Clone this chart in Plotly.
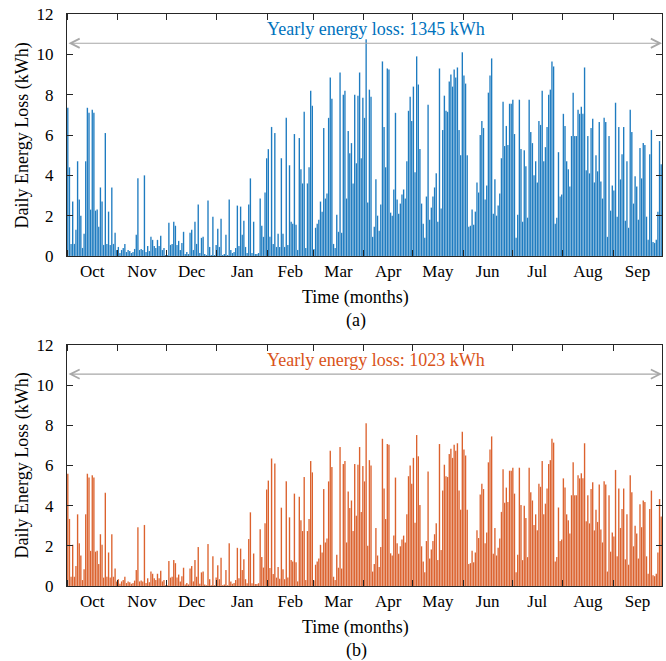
import plotly.graph_objects as go
import pandas as pd

# Daily energy loss (kWh), 1 Oct .. 30 Sep (365 days)
loss_a = [
    7.35, 4.4, 0.6, 2.7, 0.6, 1.3, 4.7, 2.8, 2.0, 0.4,
    1.1, 4.7, 7.35, 7.1, 2.3, 7.25, 7.1, 2.25, 2.3, 1.45,
    3.4, 2.7, 0.55, 6.1, 0.6, 2.2, 0.55, 3.4, 0.6, 1.15,
    0.3, 0.45, 0.15, 0.3, 0.4, 0.6, 0.2, 0.3, 0.25, 0.15,
    0.2, 0.35, 1.05, 3.85, 0.3, 0.35, 0.3, 4.0, 0.2, 0.5,
    0.25, 0.95, 0.8, 0.5, 0.4, 0.8, 0.5, 1.0, 0.3, 0.4,
    0.05, 0.05, 1.65, 0.55, 0.6, 1.7, 1.5, 0.55, 0.75, 0.3,
    0.65, 1.2, 0.1, 0.2, 0.1, 1.15, 1.3, 0.3, 1.7, 0.6,
    2.55, 0.15, 0.9, 0.95, 0.1, 0.05, 2.75, 0.45, 0.05, 1.95,
    0.05, 0.55, 1.35, 0.45, 1.85, 0.05, 0.1, 1.05, 0.05, 2.8,
    0.3, 0.15, 0.2, 0.4, 2.5, 0.5, 2.45, 1.05, 1.75, 0.45,
    0.15, 2.55, 3.85, 0.15, 1.7, 0.1, 0.1, 0.15, 2.85, 1.5,
    0.95, 3.15,
    4.85, 5.3, 0.95, 6.4, 0.6, 6.1, 0.45, 1.1, 0.45, 4.85,
    1.1, 0.45, 6.85, 0.55, 4.5, 1.7, 1.6, 6.05, 1.55, 0.3,
    5.85, 4.3, 3.6, 7.15, 0.4, 3.6, 4.4, 8.2, 7.45, 0.35,
    1.4, 1.6, 1.8, 2.7, 2.2, 6.35, 2.85, 3.1, 6.85, 8.85,
    7.8, 0.6, 0.4, 2.05, 1.2, 9.1, 1.15, 8.0, 8.2, 2.85,
    6.2, 5.1, 5.6, 3.6, 8.0, 4.6, 7.95, 9.1, 4.85, 7.85,
    6.85,
    10.75, 2.65, 8.25, 7.9, 0.95, 1.45, 3.8, 2.0, 1.25, 2.55,
    9.65, 6.4, 4.4, 9.3, 9.25, 2.15, 2.0, 3.3, 7.1, 2.8,
    2.1, 2.6, 3.05, 3.3, 2.85, 4.7, 7.2, 7.9, 6.7, 8.4,
    4.15, 9.9, 8.5, 5.3, 2.6, 1.6, 0.9, 2.95, 7.5, 1.8,
    2.4, 2.95, 3.4, 4.1, 1.7, 9.3, 2.35, 6.25, 7.95, 7.2,
    7.15, 8.65, 9.0, 8.4, 9.25, 8.85, 9.35, 6.25, 5.0, 10.1,
    8.95, 8.55, 5.0, 1.45, 1.5, 2.3, 1.55, 2.2, 3.65, 3.15,
    6.0, 6.7, 6.35, 2.8, 3.5, 8.1, 8.95, 9.8, 2.1, 3.8,
    2.0, 2.5, 3.1, 4.85, 7.65, 5.45, 6.45, 5.5, 7.55, 7.55,
    7.75, 6.05, 0.9, 2.05, 7.75, 5.3, 1.7, 5.25, 4.45, 1.9,
    7.75, 6.15, 5.6, 4.0, 4.7, 3.65, 6.7, 6.5, 8.2, 4.7,
    5.4, 6.4, 8.0, 8.25, 9.65, 9.4, 1.6, 1.9, 5.15, 2.95,
    3.05, 7.05,
    6.45, 4.7, 4.3, 3.45, 5.95, 8.1, 5.95, 5.95, 7.25, 7.05,
    7.4, 7.05, 9.35, 4.25, 5.95, 4.1, 6.35, 6.8, 3.65, 5.0,
    4.2, 6.65, 3.7, 2.85, 6.85, 6.65, 0.95, 5.95, 2.25, 3.5,
    3.25, 7.6, 1.95, 6.4, 3.8, 5.05, 6.4, 1.75, 4.7, 1.4,
    7.25, 6.15, 2.6, 3.95, 3.45, 1.8, 5.35, 3.85, 5.6, 5.5,
    1.95, 0.8, 5.05, 6.25, 0.7, 0.65, 0.8, 2.2, 5.7, 4.55,
]

loss_b = [
    5.59, 3.34, 0.46, 2.05, 0.46, 0.99, 3.57, 2.13, 1.52, 0.3,
    0.84, 3.57, 5.59, 5.4, 1.75, 5.51, 5.4, 1.71, 1.75, 1.1,
    2.58, 2.05, 0.42, 4.64, 0.46, 1.67, 0.42, 2.58, 0.46, 0.87,
    0.23, 0.34, 0.11, 0.23, 0.3, 0.46, 0.15, 0.23, 0.19, 0.11,
    0.15, 0.27, 0.8, 2.93, 0.23, 0.27, 0.23, 3.04, 0.15, 0.38,
    0.19, 0.72, 0.61, 0.38, 0.3, 0.61, 0.38, 0.76, 0.23, 0.3,
    0.04, 0.04, 1.25, 0.42, 0.46, 1.29, 1.14, 0.42, 0.57, 0.23,
    0.49, 0.91, 0.08, 0.15, 0.08, 0.87, 0.99, 0.23, 1.29, 0.46,
    1.94, 0.11, 0.68, 0.72, 0.08, 0.04, 2.09, 0.34, 0.04, 1.48,
    0.04, 0.42, 1.03, 0.34, 1.41, 0.04, 0.08, 0.8, 0.04, 2.13,
    0.23, 0.11, 0.15, 0.3, 1.9, 0.38, 1.86, 0.8, 1.33, 0.34,
    0.14, 2.34, 3.67, 0.14, 1.62, 0.1, 0.1, 0.14, 2.82, 1.45,
    0.92, 3.12,
    4.8, 5.25, 0.9, 6.35, 0.6, 6.1, 0.42, 0.95, 0.36, 3.9,
    0.84, 0.34, 5.21, 0.42, 3.42, 1.29, 1.22, 4.6, 1.18, 0.23,
    4.45, 3.27, 2.74, 5.43, 0.3, 2.74, 3.34, 6.23, 5.66, 0.27,
    1.06, 1.22, 1.37, 2.05, 1.67, 4.83, 2.17, 2.36, 5.21, 6.73,
    5.93, 0.46, 0.3, 1.56, 0.91, 6.92, 0.87, 6.08, 6.23, 2.17,
    4.71, 3.88, 4.26, 2.74, 6.08, 3.5, 6.04, 6.92, 3.69, 5.97,
    5.21,
    8.1, 2.01, 6.27, 6.0, 0.72, 1.1, 2.89, 1.52, 0.95, 1.94,
    7.33, 4.86, 3.34, 7.07, 7.03, 1.63, 1.52, 2.51, 5.4, 2.13,
    1.6, 1.98, 2.32, 2.51, 2.17, 3.57, 5.47, 6.0, 5.09, 6.38,
    3.15, 7.52, 6.46, 4.03, 1.98, 1.22, 0.68, 2.24, 5.7, 1.37,
    1.82, 2.24, 2.58, 3.12, 1.29, 7.07, 1.79, 4.75, 6.04, 5.47,
    5.43, 6.57, 6.84, 6.38, 7.03, 6.73, 7.11, 4.75, 3.8, 7.68,
    6.8, 6.5, 3.8, 1.1, 1.14, 1.75, 1.18, 1.67, 2.77, 2.39,
    4.56, 5.09, 4.83, 2.13, 2.66, 6.16, 6.8, 7.45, 1.6, 2.89,
    1.52, 1.9, 2.36, 3.69, 5.81, 4.14, 4.9, 4.18, 5.74, 5.74,
    5.89, 4.6, 0.68, 1.56, 5.89, 4.03, 1.29, 3.99, 3.38, 1.44,
    5.89, 4.67, 4.26, 3.04, 3.57, 2.77, 5.09, 4.94, 6.23, 3.57,
    4.1, 4.86, 6.08, 6.27, 7.33, 7.14, 1.22, 1.44, 3.91, 2.24,
    2.32, 5.36,
    4.9, 3.57, 3.27, 2.62, 4.52, 6.16, 4.52, 4.52, 5.51, 5.36,
    5.62, 5.36, 7.11, 3.23, 4.52, 3.12, 4.83, 5.17, 2.77, 3.8,
    3.19, 5.05, 2.81, 2.17, 5.21, 5.05, 0.72, 4.52, 1.71, 2.66,
    2.47, 5.78, 1.48, 4.86, 2.89, 3.84, 4.86, 1.33, 3.57, 1.06,
    5.51, 4.67, 1.98, 3.0, 2.62, 1.37, 4.07, 2.93, 4.26, 4.18,
    1.48, 0.61, 3.84, 4.75, 0.53, 0.49, 0.61, 1.67, 4.33, 3.46,
]

days = pd.date_range("2014-10-01 12:00", periods=len(loss_a), freq="D")
x_start, x_end = "2014-10-01", "2015-10-01"
yearly_labels = ["Yearly energy loss: 1345 kWh", "Yearly energy loss: 1023 kWh"]
panel_labels = ["(a)", "(b)"]
bar_colors = ["#0a70bb", "#d9541b"]
text_colors = ["#0072BD", "#D95319"]

FONT = "Liberation Serif"
AX = "#262626"

fig = go.Figure()
fig.add_trace(go.Bar(x=days, y=loss_a,
                     marker=dict(color=bar_colors[0], line=dict(width=0.15, color="white")),
                     xaxis="x", yaxis="y", showlegend=False))
fig.add_trace(go.Bar(x=days, y=loss_b,
                     marker=dict(color=bar_colors[1], line=dict(width=0.15, color="white")),
                     xaxis="x2", yaxis="y2", showlegend=False))

def xax(anchor):
    return dict(type="date", range=[x_start, x_end], anchor=anchor,
                tick0="2014-10-01", dtick="M1", tickformat="%b", ticklabelmode="period",
                ticks="inside", ticklen=6, tickwidth=1, tickcolor=AX,
                showline=True, linecolor=AX, linewidth=1, mirror="ticks",
                showgrid=False, zeroline=False, ticklabelstandoff=0,
                tickfont=dict(family=FONT, size=17, color="black"))

def yax(anchor, domain):
    return dict(range=[0, 12], dtick=2, domain=domain, anchor=anchor,
                ticks="inside", ticklen=6, tickwidth=1, tickcolor=AX,
                showline=True, linecolor=AX, linewidth=1, mirror="ticks",
                showgrid=False, zeroline=False, ticklabelstandoff=9,
                tickfont=dict(family=FONT, size=17, color="black"))

H_TOP, H_BOT = 14, 75
PH = 661 - H_TOP - H_BOT
def py(px):
    return (661 - H_BOT - px) / PH

fig.update_layout(
    width=666, height=661,
    margin=dict(l=67, r=4, t=H_TOP, b=H_BOT),
    paper_bgcolor="white", plot_bgcolor="white",
    bargap=0.15,
    xaxis=xax("y"), yaxis=yax("x", [py(256), 1.0]),
    xaxis2=xax("y2"), yaxis2=yax("x2", [0.0, py(345)]),
)

ann = []
axes = [("x", "y", 256, 15), ("x2", "y2", 586, 345)]
for i, (xr, yr, bot, top) in enumerate(axes):
    ann.append(dict(x=x_end, y=10.55, ax=x_start, ay=10.55, xref=xr, yref=yr,
                    axref=xr, ayref=yr, text="", showarrow=True,
                    arrowhead=5, startarrowhead=5, arrowside="end+start",
                    arrowsize=1.5, startarrowsize=1.5, arrowwidth=1.2,
                    arrowcolor="#a8a8a8"))
    ann.append(dict(x=(376 - 67) / 595, y=11.25, xref="paper", yref=yr,
                    text=yearly_labels[i], showarrow=False, xanchor="center", yanchor="middle",
                    font=dict(family=FONT, size=18, color=text_colors[i])))
    ann.append(dict(x=(355 - 67) / 595, y=py(bot + 41), xref="paper", yref="paper",
                    text="Time (months)", showarrow=False, xanchor="center", yanchor="middle",
                    font=dict(family=FONT, size=18, color="black")))
    ann.append(dict(x=(356 - 67) / 595, y=py(bot + 64), xref="paper", yref="paper",
                    text=panel_labels[i], showarrow=False, xanchor="center", yanchor="middle",
                    font=dict(family=FONT, size=18, color="black")))
    ann.append(dict(x=(22 - 67) / 595, y=py((bot + top) / 2), xref="paper", yref="paper",
                    text="Daily Energy Loss (kWh)", showarrow=False, textangle=-90,
                    xanchor="center", yanchor="middle",
                    font=dict(family=FONT, size=18, color="black")))
fig.update_layout(annotations=ann)

fig.write_html("out.html")
